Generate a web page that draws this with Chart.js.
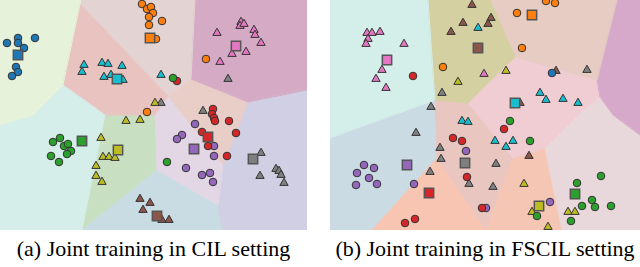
<!DOCTYPE html>
<html><head><meta charset="utf-8">
<script src="https://cdn.jsdelivr.net/npm/chart.js@4/dist/chart.umd.min.js"></script>
<style>
html,body{margin:0;padding:0;background:#fff;width:640px;height:267px;overflow:hidden}
#wa{position:absolute;left:0;top:0;width:307px;height:230px}
#wb{position:absolute;left:330px;top:0;width:310px;height:230px}
.cap{position:absolute;top:238px;font-family:"Liberation Serif","Times New Roman",serif;font-size:22px;line-height:22px;color:#000;text-align:center;white-space:nowrap}
</style></head><body>
<div id="wa"><canvas id="ca"></canvas></div>
<div id="wb"><canvas id="cb"></canvas></div>
<div class="cap" style="left:0;width:307px">(a) Joint training in CIL setting</div>
<div class="cap" style="left:330px;width:310px">(b) Joint training in FSCIL setting</div>
<script>
// ---------- panel (a): Joint training in CIL setting ----------
const regionA_green  = [[0,0],[80,0],[80,4],[63,85],[33,115],[0,125]];
const regionA_cyan   = [[0,125],[33,115],[63,85],[105,115],[82,230],[0,230]];
const regionA_salmon = [[80,4],[168,96],[155,115],[105,115],[63,85]];
const regionA_orange = [[80,0],[195,0],[191,79],[168,96],[80,4]];
const regionA_pink   = [[195,0],[307,0],[307,90],[248,102],[191,79]];
const regionA_red    = [[191,79],[248,102],[223,165],[168,96]];
const regionA_purple = [[168,96],[223,165],[218,205],[157,170],[155,115]];
const regionA_grey   = [[248,102],[307,90],[307,230],[222,230],[218,205],[223,165]];
const regionA_brown  = [[82,230],[157,170],[218,205],[222,230]];
const regionA_olive  = [[105,115],[155,115],[157,170],[82,230]];

const a_blue   = [[7,43],[18,38],[18,43],[35,38],[24,48],[16,67],[18,72],[12,76]];
const a_blueP  = [[18,55]];
const a_orange = [[142,4],[147,9],[151,7],[153,13],[149,17],[162,21],[149,25],[156,39],[147,112],[206,59]];
const a_orangeP= [[150,38]];
const a_green  = [[60,138],[53,142],[64,146],[68,144],[71,151],[67,154],[51,156],[59,162],[167,162],[173,78]];
const a_greenP = [[82,141]];
const a_red    = [[177,81],[213,109],[212,114],[214,118],[215,121],[229,121],[202,132],[236,133],[208,146],[227,156]];
const a_redP   = [[208,137]];
const a_purple = [[195,124],[182,135],[177,139],[214,146],[214,156],[186,168],[202,175],[210,173],[213,182]];
const a_purpleP= [[194,149]];
const a_cyan   = [[84,65],[82,72],[102,63],[108,64],[122,66],[104,77],[111,75],[123,80],[161,75]];
const a_cyanP  = [[117,79]];
const a_olive  = [[126,121],[140,120],[101,138],[103,157],[109,157],[115,158],[96,166],[96,176],[102,182],[155,103]];
const a_oliveP = [[118,150]];
const a_grey   = [[161,103],[203,111],[228,79],[261,153],[260,176],[276,169],[279,171],[281,175],[284,183]];
const a_greyP  = [[253,159]];
const a_pink   = [[217,33],[241,22],[240,26],[244,24],[254,30],[255,35],[261,43],[246,52],[232,54],[220,62]];
const a_pinkP  = [[236,46]];
const a_brown  = [[140,199],[150,203],[143,210],[162,220],[169,220]];
const a_brownP = [[157,216]];

// ---------- panel (b): Joint training in FSCIL setting ----------
const regionB_cyan     = [[330,0],[428,0],[435,100],[330,138]];
const regionB_olive    = [[428,0],[490,0],[515,57],[468,103],[435,100]];
const regionB_orange   = [[490,0],[617,0],[597,80],[515,57]];
const regionB_pinkpur  = [[617,0],[640,0],[640,135],[613,115],[600,97],[597,80]];
const regionB_pink     = [[515,57],[597,80],[600,97],[580,113],[545,148],[513,158],[468,103]];
const regionB_ltpink   = [[600,97],[613,115],[640,135],[640,230],[562,230],[545,148],[580,113]];
const regionB_yellow   = [[513,158],[545,148],[562,230],[486,230]];
const regionB_tan      = [[435,100],[468,103],[513,158],[486,230],[437,158]];
const regionB_red      = [[437,158],[486,230],[372,230]];
const regionB_bluegrey = [[330,138],[435,100],[437,158],[372,230],[330,230]];

const b_orange = [[517,13],[546,1],[555,3],[522,48],[443,67]];
const b_orangeP= [[532,15]];
const b_red    = [[413,76],[453,138],[462,141],[504,129],[467,177],[405,223],[415,219],[482,208]];
const b_redP   = [[429,193]];
const b_purple = [[364,165],[374,168],[357,173],[369,178],[377,184],[356,185],[414,184],[466,151],[550,202],[486,208]];
const b_purpleP= [[407,165]];
const b_green  = [[510,121],[530,141],[577,183],[601,176],[592,200],[595,207],[582,206],[611,206],[571,221],[537,216]];
const b_greenP = [[575,194]];
const b_blue   = [[552,73]];
const b_pink   = [[367,33],[372,33],[380,32],[368,39],[366,44],[404,44],[382,70],[376,79],[386,88],[484,74]];
const b_pinkP  = [[387,60]];
const b_brown  = [[472,5],[463,23],[451,32],[491,18],[488,24],[556,71],[520,103],[529,156]];
const b_brownP = [[478,48]];
const b_cyan   = [[478,28],[462,121],[468,122],[540,93],[546,100],[563,99],[578,103],[495,141],[506,147],[513,141]];
const b_cyanP  = [[515,103]];
const b_yellow = [[458,82],[506,71],[524,184],[532,212],[568,212],[575,212],[548,227]];
const b_yellowP= [[539,206]];
const b_grey   = [[442,93],[431,107],[416,133],[440,148],[441,159],[430,172],[469,184],[496,164],[493,187],[587,70]];
const b_greyP  = [[465,163]];

// ---------- styles ----------
const C = {blue:'#1f77b4',orange:'#ff7f0e',green:'#2ca02c',red:'#d62728',purple:'#9467bd',
           brown:'#8c564b',pink:'#e377c2',grey:'#7f7f7f',olive:'#bcbd22',cyan:'#17becf'};

const regionsA = [
  [regionA_green,'#e6f2d9'],[regionA_cyan,'#d5eeea'],[regionA_salmon,'#e9c3c0'],[regionA_orange,'#e4d3d3'],
  [regionA_pink,'#d4aac5'],[regionA_red,'#e9cdc7'],[regionA_purple,'#e4d7e5'],[regionA_grey,'#d0cfe3'],
  [regionA_brown,'#c9dce4'],[regionA_olive,'#c8dfc1']];
const regionsB = [
  [regionB_cyan,'#d4eeea'],[regionB_olive,'#d4d0a1'],[regionB_orange,'#e6ccc3'],[regionB_pinkpur,'#d6a9ca'],
  [regionB_pink,'#f0cdd3'],[regionB_ltpink,'#e9d8db'],[regionB_yellow,'#f5c6b4'],[regionB_tan,'#e9c6c0'],
  [regionB_red,'#f7c5b1'],[regionB_bluegrey,'#cadbe4']];

const pointsA = [
  [a_blue,'circle',C.blue],[a_orange,'circle',C.orange],[a_green,'circle',C.green],[a_red,'circle',C.red],
  [a_purple,'circle',C.purple],[a_cyan,'triangle',C.cyan],[a_olive,'triangle',C.olive],[a_grey,'triangle',C.grey],
  [a_pink,'triangle',C.pink],[a_brown,'triangle',C.brown],
  [a_blueP,'rect',C.blue],[a_orangeP,'rect',C.orange],[a_greenP,'rect',C.green],[a_redP,'rect',C.red],
  [a_purpleP,'rect',C.purple],[a_cyanP,'rect',C.cyan],[a_oliveP,'rect',C.olive],[a_greyP,'rect',C.grey],
  [a_pinkP,'rect',C.pink],[a_brownP,'rect',C.brown]];
const pointsB = [
  [b_orange,'circle',C.orange],[b_red,'circle',C.red],[b_purple,'circle',C.purple],[b_green,'circle',C.green],
  [b_blue,'circle',C.blue],[b_pink,'triangle',C.pink],[b_brown,'triangle',C.brown],[b_cyan,'triangle',C.cyan],
  [b_yellow,'triangle',C.olive],[b_grey,'triangle',C.grey],
  [b_orangeP,'rect',C.orange],[b_redP,'rect',C.red],[b_purpleP,'rect',C.purple],[b_greenP,'rect',C.green],
  [b_pinkP,'rect',C.pink],[b_brownP,'rect',C.brown],[b_cyanP,'rect',C.cyan],[b_yellowP,'rect',C.olive],
  [b_greyP,'rect',C.grey]];

const toXY = arr => arr.map(p => ({x:p[0], y:p[1]}));
const RAD = {circle:3.8, triangle:4.8, rect:6.6};

function build(canvasId, xmin, xmax, regions, points){
  const ds = [];
  regions.forEach(([poly,col]) => {
    const pts = toXY(poly.concat([poly[0]]));
    ds.push({type:'line', data:pts, fill:'shape', backgroundColor:col, borderColor:col, borderWidth:1,
             pointRadius:0, tension:0, order:10, spanGaps:true});
  });
  points.forEach(([arr,style,col]) => {
    ds.push({type:'scatter', data:toXY(arr), pointStyle:style, pointRadius:RAD[style], pointHoverRadius:RAD[style],
             backgroundColor:col, borderColor: style==='rect' ? '#555' : '#333',
             borderWidth: style==='rect' ? 1.5 : 1, order: style==='rect' ? 0 : 1});
  });
  new Chart(document.getElementById(canvasId), {
    type:'scatter',
    data:{datasets:ds},
    options:{
      responsive:true, maintainAspectRatio:false, animation:false, events:[],
      layout:{padding:0, autoPadding:false},
      plugins:{legend:{display:false}, tooltip:{enabled:false}, filler:{drawTime:'beforeDatasetsDraw'}},
      scales:{
        x:{type:'linear', display:false, min:xmin, max:xmax},
        y:{type:'linear', display:false, min:0, max:230, reverse:true}
      }
    }
  });
}
build('ca', 0, 307, regionsA, pointsA);
build('cb', 330, 640, regionsB, pointsB);
</script>
</body></html>
